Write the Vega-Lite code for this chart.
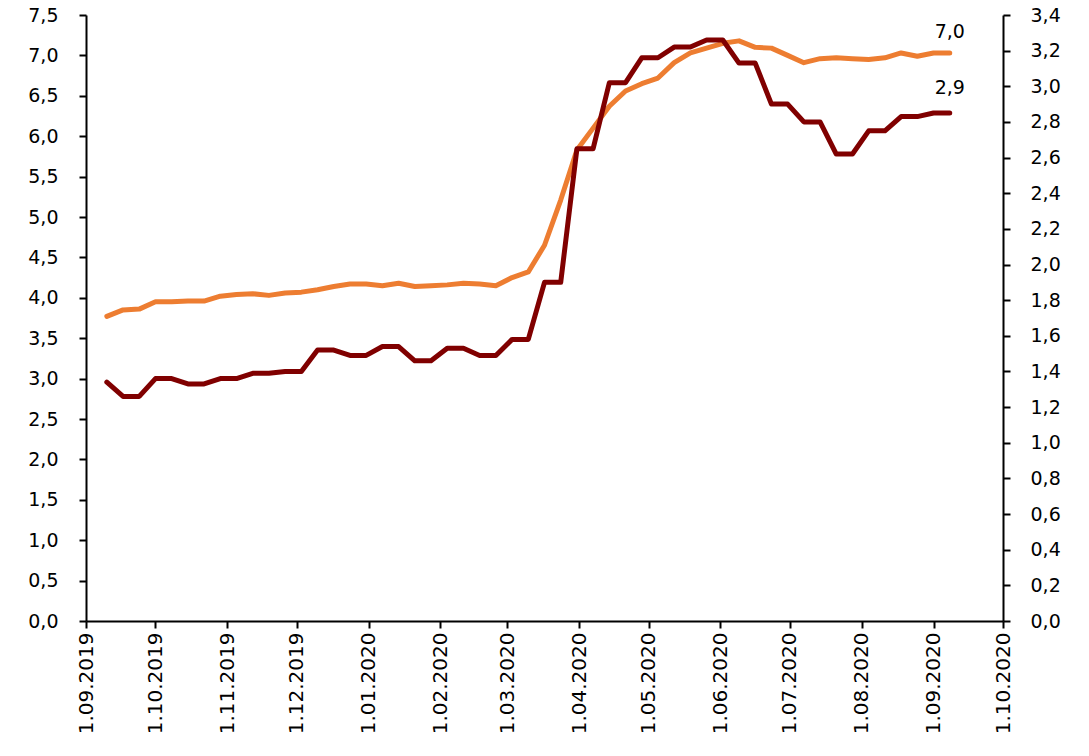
{
  "$schema": "https://vega.github.io/schema/vega-lite/v6.json",
  "width": 917,
  "height": 606,
  "autosize": {"type": "none"},
  "padding": {"left": 86, "top": 15, "right": 86, "bottom": 135},
  "background": "white",
  "config": {
    "locale": {"number": {"decimal": ",", "thousands": " ", "grouping": [3], "currency": ["", ""]}},
    "view": {"stroke": null},
    "font": "DejaVu Sans",
    "axis": {"grid": false, "domainColor": "black", "tickColor": "black", "domainWidth": 2, "tickWidth": 2, "tickSize": 7, "labelColor": "black", "labelFont": "DejaVu Sans"}
  },
  "data": {"values": [
    {"date": "2019-09-10", "orange": 3.77, "red": 1.34},
    {"date": "2019-09-17", "orange": 3.85, "red": 1.26},
    {"date": "2019-09-24", "orange": 3.86, "red": 1.26},
    {"date": "2019-10-01", "orange": 3.95, "red": 1.36},
    {"date": "2019-10-08", "orange": 3.95, "red": 1.36},
    {"date": "2019-10-15", "orange": 3.96, "red": 1.33},
    {"date": "2019-10-22", "orange": 3.96, "red": 1.33},
    {"date": "2019-10-29", "orange": 4.02, "red": 1.36},
    {"date": "2019-11-05", "orange": 4.04, "red": 1.36},
    {"date": "2019-11-12", "orange": 4.05, "red": 1.39},
    {"date": "2019-11-19", "orange": 4.03, "red": 1.39},
    {"date": "2019-11-26", "orange": 4.06, "red": 1.40},
    {"date": "2019-12-03", "orange": 4.07, "red": 1.40},
    {"date": "2019-12-10", "orange": 4.10, "red": 1.52},
    {"date": "2019-12-17", "orange": 4.14, "red": 1.52},
    {"date": "2019-12-24", "orange": 4.17, "red": 1.49},
    {"date": "2019-12-31", "orange": 4.17, "red": 1.49},
    {"date": "2020-01-07", "orange": 4.15, "red": 1.54},
    {"date": "2020-01-14", "orange": 4.18, "red": 1.54},
    {"date": "2020-01-21", "orange": 4.14, "red": 1.46},
    {"date": "2020-01-28", "orange": 4.15, "red": 1.46},
    {"date": "2020-02-04", "orange": 4.16, "red": 1.53},
    {"date": "2020-02-11", "orange": 4.18, "red": 1.53},
    {"date": "2020-02-18", "orange": 4.17, "red": 1.49},
    {"date": "2020-02-25", "orange": 4.15, "red": 1.49},
    {"date": "2020-03-03", "orange": 4.25, "red": 1.58},
    {"date": "2020-03-10", "orange": 4.32, "red": 1.58},
    {"date": "2020-03-17", "orange": 4.65, "red": 1.90},
    {"date": "2020-03-24", "orange": 5.21, "red": 1.90},
    {"date": "2020-03-31", "orange": 5.83, "red": 2.65},
    {"date": "2020-04-07", "orange": 6.10, "red": 2.65},
    {"date": "2020-04-14", "orange": 6.37, "red": 3.02},
    {"date": "2020-04-21", "orange": 6.56, "red": 3.02},
    {"date": "2020-04-28", "orange": 6.65, "red": 3.16},
    {"date": "2020-05-05", "orange": 6.72, "red": 3.16},
    {"date": "2020-05-12", "orange": 6.91, "red": 3.22},
    {"date": "2020-05-19", "orange": 7.03, "red": 3.22},
    {"date": "2020-05-26", "orange": 7.09, "red": 3.26},
    {"date": "2020-06-02", "orange": 7.15, "red": 3.26},
    {"date": "2020-06-09", "orange": 7.18, "red": 3.13},
    {"date": "2020-06-16", "orange": 7.10, "red": 3.13},
    {"date": "2020-06-23", "orange": 7.09, "red": 2.90},
    {"date": "2020-06-30", "orange": 7.00, "red": 2.90},
    {"date": "2020-07-07", "orange": 6.91, "red": 2.80},
    {"date": "2020-07-14", "orange": 6.96, "red": 2.80},
    {"date": "2020-07-21", "orange": 6.97, "red": 2.62},
    {"date": "2020-07-28", "orange": 6.96, "red": 2.62},
    {"date": "2020-08-04", "orange": 6.95, "red": 2.75},
    {"date": "2020-08-11", "orange": 6.97, "red": 2.75},
    {"date": "2020-08-18", "orange": 7.03, "red": 2.83},
    {"date": "2020-08-25", "orange": 6.99, "red": 2.83},
    {"date": "2020-09-01", "orange": 7.03, "red": 2.85},
    {"date": "2020-09-08", "orange": 7.03, "red": 2.85}
  ]},
  "encoding": {
    "x": {
      "field": "date", "type": "temporal", "title": null,
      "scale": {"type": "utc", "domain": [{"year": 2019, "month": 9, "date": 1, "utc": true}, {"year": 2020, "month": 10, "date": 1, "utc": true}]},
      "axis": {
        "labelExpr": "utcFormat(datum.value, '%-d.%m.%Y')", "labelAngle": -90, "labelFontSize": 20, "labelPadding": 4,
        "values": [
          {"year": 2019, "month": 9, "date": 1, "utc": true},
          {"year": 2019, "month": 10, "date": 1, "utc": true},
          {"year": 2019, "month": 11, "date": 1, "utc": true},
          {"year": 2019, "month": 12, "date": 1, "utc": true},
          {"year": 2020, "month": 1, "date": 1, "utc": true},
          {"year": 2020, "month": 2, "date": 1, "utc": true},
          {"year": 2020, "month": 3, "date": 1, "utc": true},
          {"year": 2020, "month": 4, "date": 1, "utc": true},
          {"year": 2020, "month": 5, "date": 1, "utc": true},
          {"year": 2020, "month": 6, "date": 1, "utc": true},
          {"year": 2020, "month": 7, "date": 1, "utc": true},
          {"year": 2020, "month": 8, "date": 1, "utc": true},
          {"year": 2020, "month": 9, "date": 1, "utc": true},
          {"year": 2020, "month": 10, "date": 1, "utc": true}
        ]
      }
    }
  },
  "layer": [
    {
      "encoding": {
        "y": {
          "field": "orange", "type": "quantitative", "title": null,
          "scale": {"domain": [0, 7.5], "nice": false, "zero": true},
          "axis": {"orient": "left", "values": [0, 0.5, 1, 1.5, 2, 2.5, 3, 3.5, 4, 4.5, 5, 5.5, 6, 6.5, 7, 7.5], "format": ".1f", "labelFontSize": 19, "labelPadding": 21}
        }
      },
      "layer": [
        {"mark": {"type": "line", "color": "#ED7D31", "strokeWidth": 5, "strokeCap": "round", "strokeJoin": "round"}},
        {
          "transform": [{"filter": "utcyear(datum.date) == 2020 && utcmonth(datum.date) == 8 && utcdate(datum.date) == 8"}],
          "mark": {"type": "text", "align": "center", "baseline": "alphabetic", "dy": -15, "fontSize": 19, "color": "black"},
          "encoding": {"text": {"field": "orange", "type": "quantitative", "format": ".1f"}}
        }
      ]
    },
    {
      "encoding": {
        "y": {
          "field": "red", "type": "quantitative", "title": null,
          "scale": {"domain": [0, 3.4], "nice": false, "zero": true},
          "axis": {"orient": "right", "values": [0, 0.2, 0.4, 0.6, 0.8, 1, 1.2, 1.4, 1.6, 1.8, 2, 2.2, 2.4, 2.6, 2.8, 3, 3.2, 3.4], "format": ".1f", "labelFontSize": 19, "labelPadding": 20}
        }
      },
      "layer": [
        {"mark": {"type": "line", "color": "#800000", "strokeWidth": 5, "strokeCap": "round", "strokeJoin": "round"}},
        {
          "transform": [{"filter": "utcyear(datum.date) == 2020 && utcmonth(datum.date) == 8 && utcdate(datum.date) == 8"}],
          "mark": {"type": "text", "align": "center", "baseline": "alphabetic", "dy": -19, "fontSize": 19, "color": "black"},
          "encoding": {"text": {"field": "red", "type": "quantitative", "format": ".1f"}}
        }
      ]
    }
  ],
  "resolve": {"scale": {"y": "independent"}}
}
